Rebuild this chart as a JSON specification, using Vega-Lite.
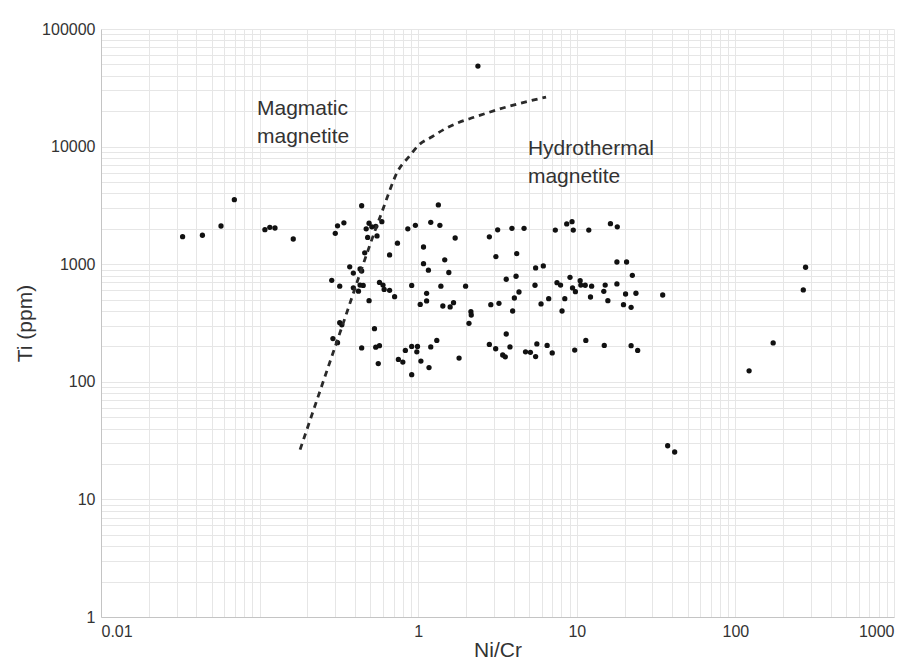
{
  "$schema": "https://vega.github.io/schema/vega-lite/v6.json",
  "width": 793,
  "height": 588,
  "autosize": {"type": "none"},
  "padding": {"left": 101, "top": 29, "right": 16, "bottom": 46},
  "background": "white",
  "config": {
    "view": {"stroke": null},
    "font": "Liberation Sans",
    "axis": {
      "gridColor": "#e6e6e6",
      "gridWidth": 1,
      "domainColor": "#c4c4c4",
      "ticks": false,
      "labelFont": "Liberation Sans",
      "labelFontSize": 16,
      "labelColor": "#333333",
      "titleFont": "Liberation Sans",
      "titleFontSize": 21,
      "titleFontWeight": "normal",
      "titleColor": "#333333",
      "labelOverlap": false,
      "labelBound": false
    }
  },
  "datasets": {
    "points": [
      {"ni_cr": 0.0327, "ti": 1714}, {"ni_cr": 0.0436, "ti": 1762}, {"ni_cr": 0.0571, "ti": 2113}, {"ni_cr": 0.0693, "ti": 3535},
      {"ni_cr": 0.108, "ti": 1964}, {"ni_cr": 0.116, "ti": 2059}, {"ni_cr": 0.125, "ti": 2032}, {"ni_cr": 0.163, "ti": 1638},
      {"ni_cr": 0.44, "ti": 3140}, {"ni_cr": 0.31, "ti": 2120}, {"ni_cr": 0.34, "ti": 2250}, {"ni_cr": 0.30, "ti": 1830},
      {"ni_cr": 0.49, "ti": 2230}, {"ni_cr": 0.47, "ti": 2000}, {"ni_cr": 0.51, "ti": 2080}, {"ni_cr": 0.54, "ti": 2100},
      {"ni_cr": 0.59, "ti": 2300}, {"ni_cr": 0.55, "ti": 1740}, {"ni_cr": 0.48, "ti": 1690}, {"ni_cr": 0.86, "ti": 2000},
      {"ni_cr": 0.96, "ti": 2140}, {"ni_cr": 0.74, "ti": 1510}, {"ni_cr": 1.08, "ti": 1400}, {"ni_cr": 0.46, "ti": 1250},
      {"ni_cr": 0.66, "ti": 1200}, {"ni_cr": 1.08, "ti": 1010}, {"ni_cr": 0.37, "ti": 950}, {"ni_cr": 0.39, "ti": 840},
      {"ni_cr": 0.43, "ti": 910}, {"ni_cr": 0.44, "ti": 875}, {"ni_cr": 0.285, "ti": 730}, {"ni_cr": 0.32, "ti": 650},
      {"ni_cr": 0.39, "ti": 630}, {"ni_cr": 0.43, "ti": 665}, {"ni_cr": 0.45, "ti": 660}, {"ni_cr": 0.42, "ti": 590},
      {"ni_cr": 0.57, "ti": 700}, {"ni_cr": 0.60, "ti": 665}, {"ni_cr": 0.61, "ti": 610}, {"ni_cr": 0.66, "ti": 600},
      {"ni_cr": 0.71, "ti": 530}, {"ni_cr": 0.91, "ti": 660}, {"ni_cr": 0.49, "ti": 490}, {"ni_cr": 1.03, "ti": 455},
      {"ni_cr": 0.32, "ti": 318}, {"ni_cr": 0.33, "ti": 305}, {"ni_cr": 0.53, "ti": 283}, {"ni_cr": 0.29, "ti": 233},
      {"ni_cr": 0.31, "ti": 215}, {"ni_cr": 0.44, "ti": 194}, {"ni_cr": 0.54, "ti": 197}, {"ni_cr": 0.57, "ti": 203},
      {"ni_cr": 0.83, "ti": 185}, {"ni_cr": 0.91, "ti": 200}, {"ni_cr": 0.99, "ti": 200}, {"ni_cr": 0.98, "ti": 180},
      {"ni_cr": 0.75, "ti": 155}, {"ni_cr": 0.80, "ti": 147}, {"ni_cr": 0.56, "ti": 143}, {"ni_cr": 1.04, "ti": 150},
      {"ni_cr": 0.91, "ti": 115},
      {"ni_cr": 1.34, "ti": 3190}, {"ni_cr": 1.2, "ti": 2270}, {"ni_cr": 1.37, "ti": 2140}, {"ni_cr": 1.71, "ti": 1670},
      {"ni_cr": 2.81, "ti": 1710}, {"ni_cr": 3.17, "ti": 1960}, {"ni_cr": 3.9, "ti": 2020}, {"ni_cr": 4.65, "ti": 2020},
      {"ni_cr": 1.47, "ti": 1090}, {"ni_cr": 1.16, "ti": 890}, {"ni_cr": 1.56, "ti": 850}, {"ni_cr": 3.09, "ti": 1160},
      {"ni_cr": 4.18, "ti": 1230}, {"ni_cr": 3.59, "ti": 745}, {"ni_cr": 4.14, "ti": 790}, {"ni_cr": 1.39, "ti": 650},
      {"ni_cr": 1.99, "ti": 650}, {"ni_cr": 1.13, "ti": 565}, {"ni_cr": 1.13, "ti": 487}, {"ni_cr": 1.43, "ti": 441},
      {"ni_cr": 1.59, "ti": 433}, {"ni_cr": 1.67, "ti": 471}, {"ni_cr": 4.32, "ti": 580}, {"ni_cr": 4.04, "ti": 516},
      {"ni_cr": 2.87, "ti": 453}, {"ni_cr": 3.23, "ti": 465}, {"ni_cr": 3.94, "ti": 400}, {"ni_cr": 2.15, "ti": 395},
      {"ni_cr": 2.16, "ti": 370}, {"ni_cr": 2.09, "ti": 314}, {"ni_cr": 3.59, "ti": 255}, {"ni_cr": 1.31, "ti": 225},
      {"ni_cr": 1.2, "ti": 198}, {"ni_cr": 1.17, "ti": 132}, {"ni_cr": 1.81, "ti": 159}, {"ni_cr": 2.81, "ti": 208},
      {"ni_cr": 3.08, "ti": 191}, {"ni_cr": 3.41, "ti": 169}, {"ni_cr": 3.54, "ti": 163}, {"ni_cr": 3.79, "ti": 198},
      {"ni_cr": 4.75, "ti": 180}, {"ni_cr": 5.1, "ti": 178},
      {"ni_cr": 7.32, "ti": 1950}, {"ni_cr": 8.64, "ti": 2200}, {"ni_cr": 9.33, "ti": 2300}, {"ni_cr": 9.5, "ti": 1950},
      {"ni_cr": 11.9, "ti": 1950}, {"ni_cr": 16.3, "ti": 2210}, {"ni_cr": 18, "ti": 2080}, {"ni_cr": 5.5, "ti": 930},
      {"ni_cr": 6.15, "ti": 966}, {"ni_cr": 5.45, "ti": 662}, {"ni_cr": 7.5, "ti": 696}, {"ni_cr": 7.9, "ti": 665},
      {"ni_cr": 9.06, "ti": 774}, {"ni_cr": 9.4, "ti": 628}, {"ni_cr": 9.8, "ti": 584}, {"ni_cr": 10.5, "ti": 724},
      {"ni_cr": 10.6, "ti": 665}, {"ni_cr": 11.3, "ti": 662}, {"ni_cr": 12.4, "ti": 650}, {"ni_cr": 15.1, "ti": 665},
      {"ni_cr": 14.8, "ti": 588}, {"ni_cr": 17.9, "ti": 680}, {"ni_cr": 17.9, "ti": 1044}, {"ni_cr": 20.6, "ti": 1044},
      {"ni_cr": 22.4, "ti": 805}, {"ni_cr": 23.6, "ti": 566}, {"ni_cr": 20.3, "ti": 558}, {"ni_cr": 19.7, "ti": 453},
      {"ni_cr": 22, "ti": 430}, {"ni_cr": 15.7, "ti": 490}, {"ni_cr": 12.2, "ti": 526}, {"ni_cr": 8.4, "ti": 509},
      {"ni_cr": 6.65, "ti": 509}, {"ni_cr": 5.95, "ti": 459}, {"ni_cr": 8.07, "ti": 400}, {"ni_cr": 5.6, "ti": 210},
      {"ni_cr": 6.5, "ti": 204}, {"ni_cr": 5.5, "ti": 164}, {"ni_cr": 7.0, "ti": 176}, {"ni_cr": 9.7, "ti": 186},
      {"ni_cr": 11.4, "ti": 225}, {"ni_cr": 14.9, "ti": 204}, {"ni_cr": 22, "ti": 203}, {"ni_cr": 24.2, "ti": 185},
      {"ni_cr": 34.8, "ti": 547}, {"ni_cr": 37.4, "ti": 28.6}, {"ni_cr": 41.4, "ti": 25.3}, {"ni_cr": 122, "ti": 124},
      {"ni_cr": 173, "ti": 214}, {"ni_cr": 277, "ti": 942}, {"ni_cr": 268, "ti": 604}, {"ni_cr": 2.38, "ti": 48400}
    ],
    "curve": [
      {"ni_cr": 0.18, "ti": 26.5}, {"ni_cr": 0.32, "ti": 258}, {"ni_cr": 0.58, "ti": 2600},
      {"ni_cr": 0.757, "ti": 6450}, {"ni_cr": 0.875, "ti": 8210}, {"ni_cr": 1.01, "ti": 10320},
      {"ni_cr": 1.222, "ti": 12140}, {"ni_cr": 1.482, "ti": 14200}, {"ni_cr": 1.816, "ti": 16100},
      {"ni_cr": 2.25, "ti": 17750}, {"ni_cr": 3.42, "ti": 21290}, {"ni_cr": 6.4, "ti": 26400}
    ],
    "labels": [
      {"ni_cr": 0.0963, "ti": 18570, "text": ["Magmatic", "magnetite"]},
      {"ni_cr": 4.92, "ti": 8490, "text": ["Hydrothermal", "magnetite"]}
    ]
  },
  "layer": [
    {
      "data": {"name": "points"},
      "mark": {"type": "circle", "color": "#111111", "opacity": 1, "size": 28},
      "encoding": {
        "x": {
          "field": "ni_cr", "type": "quantitative", "title": "Ni/Cr",
          "scale": {"type": "log", "domain": [0.01, 1000], "nice": false},
          "axis": {
            "values": [0.01,0.02,0.03,0.04,0.05,0.06,0.07,0.08,0.09,0.1,0.2,0.3,0.4,0.5,0.6,0.7,0.8,0.9,1,2,3,4,5,6,7,8,9,10,20,30,40,50,60,70,80,90,100,200,300,400,500,600,700,800,900,1000],
            "labelExpr": "datum.value == 0.01 ? '0.01' : datum.value == 1 ? '1' : datum.value == 10 ? '10' : datum.value == 100 ? '100' : datum.value == 1000 ? '1000' : ''",
            "labelPadding": 6,
            "titlePadding": 0
          }
        },
        "y": {
          "field": "ti", "type": "quantitative", "title": "Ti (ppm)",
          "scale": {"type": "log", "domain": [1, 100000], "nice": false},
          "axis": {
            "values": [1,2,3,4,5,6,7,8,9,10,20,30,40,50,60,70,80,90,100,200,300,400,500,600,700,800,900,1000,2000,3000,4000,5000,6000,7000,8000,9000,10000,20000,30000,40000,50000,60000,70000,80000,90000,100000],
            "labelExpr": "datum.value == 1 ? '1' : datum.value == 10 ? '10' : datum.value == 100 ? '100' : datum.value == 1000 ? '1000' : datum.value == 10000 ? '10000' : datum.value == 100000 ? '100000' : ''",
            "labelPadding": 6,
            "titlePadding": 6
          }
        }
      }
    },
    {
      "data": {"name": "curve"},
      "mark": {"type": "line", "color": "#2a2a2a", "strokeWidth": 2.8, "strokeDash": [6, 5], "interpolate": "monotone"},
      "encoding": {
        "x": {"field": "ni_cr", "type": "quantitative", "scale": {"type": "log", "domain": [0.01, 1000], "nice": false}},
        "y": {"field": "ti", "type": "quantitative", "scale": {"type": "log", "domain": [1, 100000], "nice": false}}
      }
    },
    {
      "data": {"name": "labels"},
      "mark": {"type": "text", "align": "left", "baseline": "alphabetic", "fontSize": 21, "lineHeight": 28, "color": "#333333", "font": "Liberation Sans"},
      "encoding": {
        "x": {"field": "ni_cr", "type": "quantitative", "scale": {"type": "log", "domain": [0.01, 1000], "nice": false}},
        "y": {"field": "ti", "type": "quantitative", "scale": {"type": "log", "domain": [1, 100000], "nice": false}},
        "text": {"field": "text"}
      }
    }
  ]
}
